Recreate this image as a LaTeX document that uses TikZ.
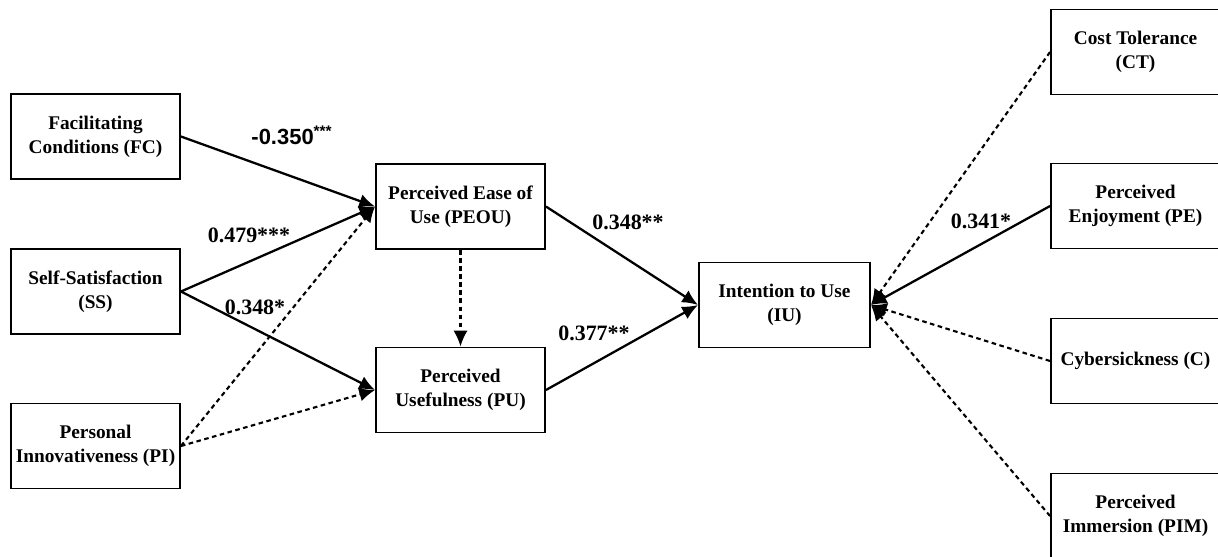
\documentclass[tikz,border=0pt]{standalone}
\usepackage{fontspec}
\setmainfont{Liberation Serif}
\newfontfamily\arialfont{Liberation Sans}
\usetikzlibrary{arrows.meta, positioning}

\tikzset{
  construct/.style={draw, line width=1.1pt, minimum width=3.38cm, minimum height=1.7cm,
    align=center, inner sep=2pt, font=\fontsize{11}{13.5}\selectfont\bfseries},
  sigpath/.style={line width=1.3pt, -{Latex[length=9pt,width=8pt]}},
  nspath/.style={line width=1.2pt, dash pattern=on 2.6pt off 2pt, -{Latex[length=9pt,width=8pt]}},
  coef/.style={font=\fontsize{12.5}{14}\selectfont\bfseries}
}

\begin{document}
\begin{tikzpicture}[x=0.02cm, y=-0.02cm]

  % canvas
  \useasboundingbox (0,0) rectangle (1218,556);

  % external variables (left)
  \node[construct] (FC) at (95.5,136.5) {Facilitating\\Conditions (FC)};
  \node[construct] (SS) at (95.5,291.5) {Self-Satisfaction\\(SS)};
  \node[construct] (PI) at (95.5,446)   {Personal\\Innovativeness (PI)};

  % TAM core
  \node[construct] (PEOU) at (460.5,206.5) {Perceived Ease of\\Use (PEOU)};
  \node[construct] (PU)   at (460.5,390)   {Perceived\\Usefulness (PU)};
  \node[construct, minimum width=3.42cm] (IU) at (784.5,305) {Intention to Use\\(IU)};

  % external variables (right)
  \node[construct] (CT)  at (1135.5,52)  {Cost Tolerance\\(CT)};
  \node[construct] (PE)  at (1135.5,206) {Perceived\\Enjoyment (PE)};
  \node[construct] (C)   at (1135.5,361) {Cybersickness (C)};
  \node[construct] (PIM) at (1135.5,516) {Perceived\\Immersion (PIM)};

  % paths into PEOU / PU
  \draw[sigpath] (FC.east) -- (PEOU.west);
  \draw[sigpath] (SS.east) -- (PEOU.west);
  \draw[sigpath] (SS.east) -- (PU.west);
  \draw[nspath]  (PI.east) -- (PEOU.west);
  \draw[nspath]  (PI.east) -- (PU.west);
  \draw[nspath]  (PEOU.south) -- (PU.north);

  % paths into IU
  \draw[sigpath] (PEOU.east) -- (IU.west);
  \draw[sigpath] (PU.east) -- (IU.west);
  \draw[nspath]  (CT.west) -- (IU.east);
  \draw[sigpath] (PE.west) -- (IU.east);
  \draw[nspath]  (C.west) -- (IU.east);
  \draw[nspath]  (PIM.west) -- (IU.east);

  % path coefficients
  \node[coef, font=\fontsize{12.5}{14}\selectfont\arialfont\bfseries] (bFC) at (292,135) {-0.350\textsuperscript{***}};
  \node[coef] (bSSa) at (249,235) {0.479***};
  \node[coef] (bSSb) at (255,307) {0.348*};
  \node[coef] (bPEOU) at (628,222) {0.348**};
  \node[coef] (bPU) at (594,333) {0.377**};
  \node[coef] (bPE) at (981,221) {0.341*};

\end{tikzpicture}
\end{document}
